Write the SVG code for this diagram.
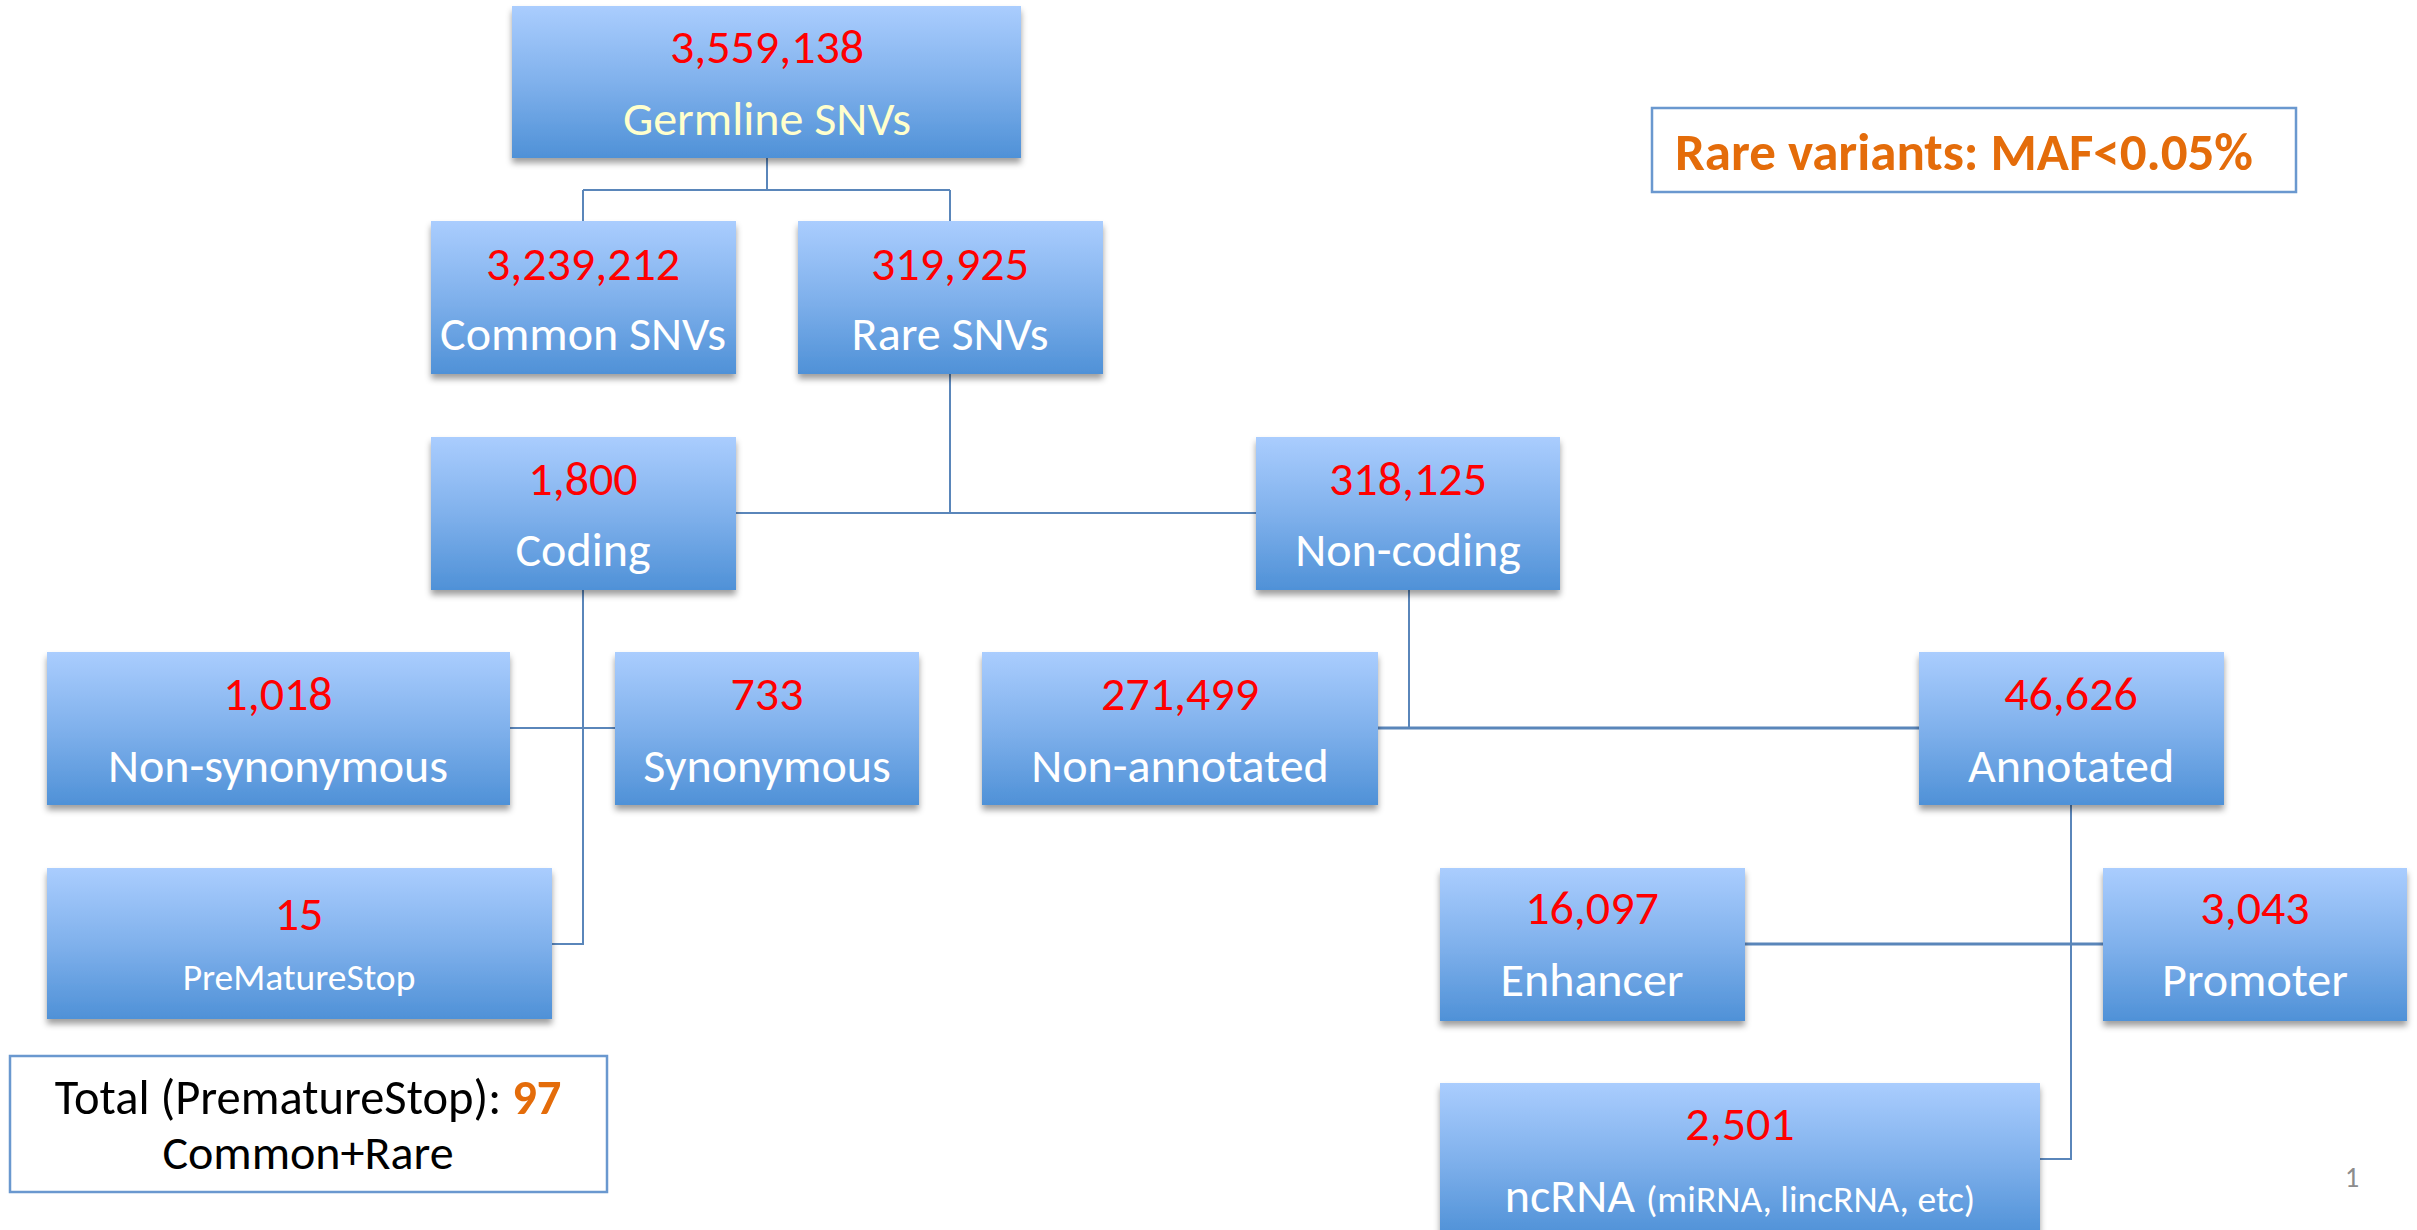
<svg xmlns="http://www.w3.org/2000/svg" width="2417" height="1230" viewBox="0 0 2417 1230">
<defs>
<linearGradient id="bg" x1="0" y1="0" x2="0" y2="1">
<stop offset="0" stop-color="#aacdfe"/>
<stop offset="0.5" stop-color="#80b1ec"/>
<stop offset="1" stop-color="#4f91d7"/>
</linearGradient>
<filter id="sh" x="-10%" y="-10%" width="120%" height="130%">
<feDropShadow dx="0" dy="5" stdDeviation="3" flood-color="#000" flood-opacity="0.38"/>
</filter>
</defs>
<style>
.box{fill:url(#bg);filter:url(#sh)}
text{font-family:Carlito,"Liberation Sans",Arial,sans-serif;text-anchor:middle}
.num{fill:#ff0000;font-size:48px}
.lab{fill:#ffffff;font-size:48px}
.cream{fill:#ffffcc}
.small{font-size:37.5px}
.conn{fill:none;stroke:#5a86ba;stroke-width:2}
.note{fill:#ffffff;stroke:#6a98cf;stroke-width:2.5}
</style>
<rect width="2417" height="1230" fill="#ffffff"/>
<g id="connectors">
<path class="conn" d="M767,158 V190 M583,190 H950 M583,190 V221 M950,190 V221"/>
<path class="conn" d="M950,374 V513 M736,513 H1256"/>
<path class="conn" d="M583,590 V944 H552 M510,728 H615"/>
<path class="conn" d="M1409,590 V728"/>
<path class="conn" style="stroke-width:3" d="M1378,728 H1919"/>
<path class="conn" d="M2071,805 V1159 H2040"/>
<path class="conn" style="stroke-width:3" d="M1745,944 H2103"/>
</g>
<g id="germline"><rect class="box" x="512" y="6" width="509" height="152"/><text class="num" x="767" y="63">3,559,138</text><text class="lab cream" x="767" y="135">Germline SNVs</text></g>
<g id="common"><rect class="box" x="431" y="221" width="305" height="153"/><text class="num" x="583" y="280">3,239,212</text><text class="lab" x="583" y="350">Common SNVs</text></g>
<g id="rare"><rect class="box" x="798" y="221" width="305" height="153"/><text class="num" x="950" y="280">319,925</text><text class="lab" x="950" y="350">Rare SNVs</text></g>
<g id="coding"><rect class="box" x="431" y="437" width="305" height="153"/><text class="num" x="583" y="495">1,800</text><text class="lab" x="583" y="566">Coding</text></g>
<g id="noncoding"><rect class="box" x="1256" y="437" width="304" height="153"/><text class="num" x="1408" y="495">318,125</text><text class="lab" x="1408" y="566">Non-coding</text></g>
<g id="nonsyn"><rect class="box" x="47" y="652" width="463" height="153"/><text class="num" x="278" y="710">1,018</text><text class="lab" x="278" y="782">Non-synonymous</text></g>
<g id="syn"><rect class="box" x="615" y="652" width="304" height="153"/><text class="num" x="767" y="710">733</text><text class="lab" x="767" y="782">Synonymous</text></g>
<g id="nonannot"><rect class="box" x="982" y="652" width="396" height="153"/><text class="num" x="1180" y="710">271,499</text><text class="lab" x="1180" y="782">Non-annotated</text></g>
<g id="annot"><rect class="box" x="1919" y="652" width="305" height="153"/><text class="num" x="2071" y="710">46,626</text><text class="lab" x="2071" y="782">Annotated</text></g>
<g id="premature"><rect class="box" x="47" y="868" width="505" height="151"/><text class="num" x="299" y="930">15</text><text class="lab small" x="299" y="990">PreMatureStop</text></g>
<g id="enhancer"><rect class="box" x="1440" y="868" width="305" height="153"/><text class="num" x="1592" y="924">16,097</text><text class="lab" x="1592" y="996">Enhancer</text></g>
<g id="promoter"><rect class="box" x="2103" y="868" width="304" height="153"/><text class="num" x="2255" y="924">3,043</text><text class="lab" x="2255" y="996">Promoter</text></g>
<g id="ncrna"><rect class="box" x="1440" y="1083" width="600" height="153"/><text class="num" x="1740" y="1140">2,501</text><text class="lab" x="1740" y="1212">ncRNA <tspan class="small">(miRNA, lincRNA, etc)</tspan></text></g>
<g id="total"><rect class="note" x="10" y="1056" width="597" height="136"/><text x="308" y="1114" style="font-size:48.5px;fill:#000">Total (PrematureStop): <tspan style="fill:#e46c0a;font-weight:bold">97</tspan></text><text x="308" y="1169" style="font-size:48px;fill:#000">Common+Rare</text></g>
<g id="rarenote"><rect class="note" x="1652" y="108" width="644" height="84"/><text x="1675" y="170" style="font-size:53px;font-weight:bold;fill:#e46c0a;text-anchor:start">Rare variants: MAF&lt;0.05%</text></g>
<text x="2352" y="1187" style="font-size:28px;fill:#8c8c8c">1</text>
</svg>
